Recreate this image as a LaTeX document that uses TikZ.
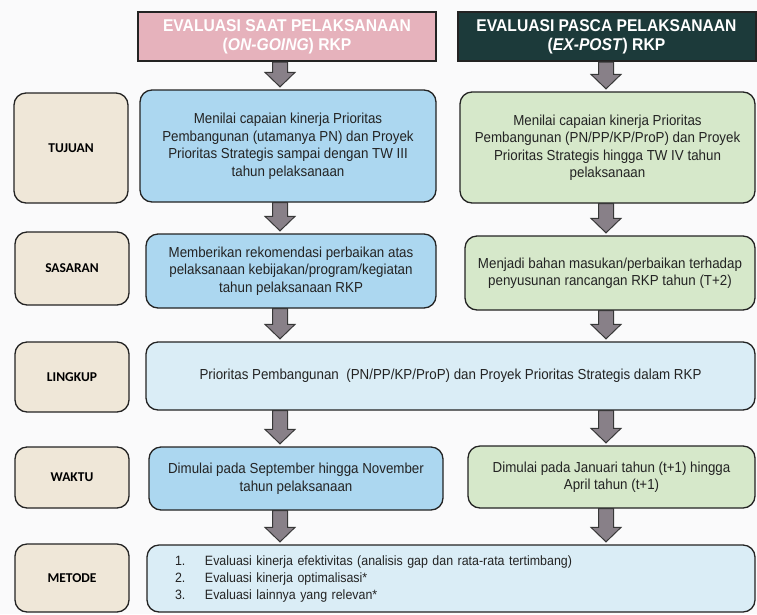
\documentclass[tikz,border=0pt]{standalone}
\usepackage{fontspec}
\setmainfont{Liberation Sans}
\newfontfamily\bodyfont[FakeStretch=0.92]{Liberation Sans}
\newfontfamily\tagfont{Carlito}
\usetikzlibrary{calc}
\definecolor{pagebg}{RGB}{250,250,251}
\definecolor{boxline}{RGB}{35,35,35}
\definecolor{evalpink}{RGB}{230,178,188}
\definecolor{evaldark}{RGB}{28,58,58}
\definecolor{tagtan}{RGB}{239,231,216}
\definecolor{ongoingblue}{RGB}{172,215,240}
\definecolor{expostgreen}{RGB}{214,232,202}
\definecolor{commonblue}{RGB}{218,237,246}
\definecolor{arrowgrey}{RGB}{136,128,136}
\definecolor{arrowline}{RGB}{55,55,55}
\begin{document}
\begin{tikzpicture}[x=1pt,y=-1pt,
		every node/.style={
				font=\bodyfont\fontsize{14.5}{17.5}\selectfont,
				text=boxline,
			},
		box/.style={draw=boxline, line width=1.3pt, rounded corners=12pt, align=center, inner sep=0pt},
		tag/.style={box, fill=tagtan, text=black, font=\tagfont\bfseries\fontsize{13.5}{15}\selectfont},
		ongoing/.style={box, fill=ongoingblue},
		expost/.style={box, fill=expostgreen},
		common/.style={box, fill=commonblue},
		header/.style={draw=boxline, line width=2pt, align=center, text=white,
				font=\bodyfont\bfseries\fontsize{17}{19}\selectfont},
		fatarrow/.style={fill=arrowgrey, draw=arrowline, line width=1pt, line join=miter},
	]
	\fill[pagebg] (0,0) rectangle (757,614);
	\useasboundingbox (0,0) rectangle (757,614);

	% headers
	\node[header, fill=evalpink, minimum width=298pt, minimum height=49pt] (hl) at (287,36.5) {EVALUASI SAAT PELAKSANAAN\\(\textit{ON-GOING}) RKP};
	\node[header, fill=evaldark, minimum width=298pt, minimum height=49pt] (hr) at (606.5,36.5) {EVALUASI PASCA PELAKSANAAN\\(\textit{EX-POST}) RKP};

	% row labels
	\node[tag, minimum width=114pt, minimum height=110pt] (tA) at (71,148) {TUJUAN};
	\node[tag, minimum width=114pt, minimum height=73pt] (tB) at (72,268.5) {SASARAN};
	\node[tag, minimum width=114pt, minimum height=70pt] (tC) at (72,377) {LINGKUP};
	\node[tag, minimum width=114pt, minimum height=61pt] (tD) at (72,477.5) {WAKTU};
	\node[tag, minimum width=114pt, minimum height=68pt] (tE) at (72,578) {METODE};

	% on-going column
	\node[ongoing, minimum width=296pt, minimum height=112pt] (tl) at (288,146) {Menilai capaian kinerja Prioritas\\Pembangunan (utamanya PN) dan Proyek\\Prioritas Strategis sampai dengan TW III\\tahun pelaksanaan};
	\node[ongoing, minimum width=290pt, minimum height=74pt] (sl) at (291,271) {Memberikan rekomendasi perbaikan atas\\pelaksanaan kebijakan/program/kegiatan\\tahun pelaksanaan RKP};
	\node[ongoing, minimum width=294pt, minimum height=63pt] (wl) at (296,478.5) {Dimulai pada September hingga November\\tahun pelaksanaan};

	% ex-post column
	\node[expost, minimum width=295pt, minimum height=111pt] (tr) at (607.5,147.5) {Menilai capaian kinerja Prioritas\\Pembangunan (PN/PP/KP/ProP) dan Proyek\\Prioritas Strategis hingga TW IV tahun\\pelaksanaan};
	\node[expost, minimum width=290pt, minimum height=74pt] (sr) at (610,273) {Menjadi bahan masukan/perbaikan terhadap\\penyusunan rancangan RKP tahun (T+2)};
	\node[expost, minimum width=287pt, minimum height=62pt] (wr) at (611.5,477) {Dimulai pada Januari tahun (t+1) hingga\\April tahun (t+1)};

	% shared rows
	\node[common, minimum width=609pt, minimum height=68pt] (lk) at (450.5,376) {Prioritas Pembangunan~~(PN/PP/KP/ProP) dan Proyek Prioritas Strategis dalam RKP};
	\node[common, minimum width=608pt, minimum height=67pt, text width=552pt, align=left,
		font=\bodyfont\fontsize{13.5}{17}\selectfont] (mt) at (451,578.5) {\makebox[30pt][l]{1.}Evaluasi kinerja efektivitas (analisis gap dan rata-rata tertimbang)\\\makebox[30pt][l]{2.}Evaluasi kinerja optimalisasi*\\\makebox[30pt][l]{3.}Evaluasi lainnya yang relevan*};

	\coordinate (colL) at (280,0);
	\coordinate (colR) at (606,0);

	% block arrows
	\foreach \a/\b/\c in {hl/tl/colL, hr/tr/colR, tl/sl/colL, tr/sr/colR, sl/lk/colL, sr/lk/colR, lk/wl/colL, lk/wr/colR, wl/mt/colL, wr/mt/colR} {
			\draw[fatarrow] let \p1=(\a.south -| \c), \p2=(\b.north -| \c) in
				(\x1-7.5pt,\y1) -- (\x1+7.5pt,\y1) -- (\x1+7.5pt,\y2+17pt) -- (\x1+15pt,\y2+17pt)
				-- (\x1,\y2+2.5pt) -- (\x1-15pt,\y2+17pt) -- (\x1-7.5pt,\y2+17pt) -- cycle;
		}
\end{tikzpicture}
\end{document}
